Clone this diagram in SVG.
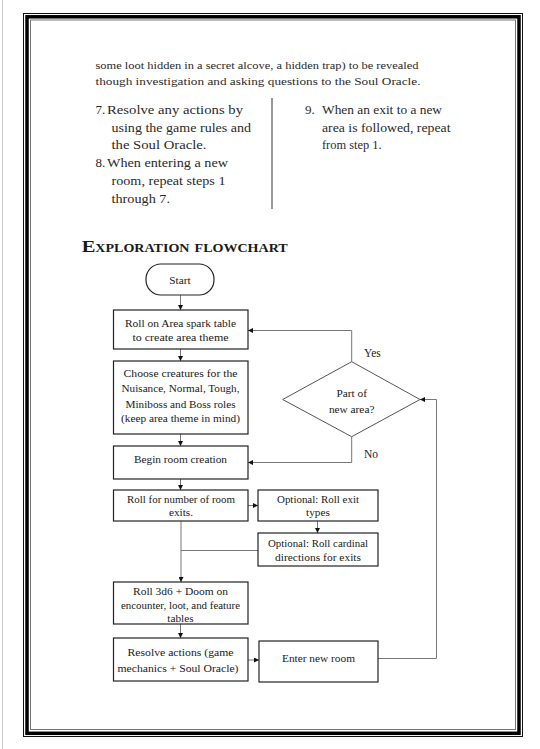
<svg xmlns="http://www.w3.org/2000/svg" width="540" height="749" viewBox="0 0 540 749">
<defs>
<marker id="ah" viewBox="0 0 6 6" refX="6" refY="3" markerWidth="5" markerHeight="5" markerUnits="userSpaceOnUse" orient="auto">
<path d="M0,0 L6,3 L0,6 z" fill="#111"/>
</marker>
<style>
.body{font-family:"Liberation Serif","DejaVu Serif",serif;fill:#2a2a2a;}
.p{font-size:11.2px;}
.li{font-size:13px;}
.h{font-family:"Liberation Serif","DejaVu Serif",serif;font-weight:bold;font-size:17.5px;font-variant:small-caps;fill:#1a1a1a;}
.box{fill:#fff;stroke:#222;stroke-width:1.2;}
.dia{fill:#fff;stroke:#555;stroke-width:1;}
.t{font-family:"Liberation Serif","DejaVu Serif",serif;font-size:11.3px;fill:#1a1a1a;text-anchor:middle;}
.lbl{font-family:"Liberation Serif","DejaVu Serif",serif;font-size:11.5px;fill:#222;}
.c{fill:none;stroke:#777;stroke-width:1;}
.ca{fill:none;stroke:#777;stroke-width:1;marker-end:url(#ah);}
</style>
</defs>
<rect width="540" height="749" fill="#fff"/>
<line x1="2.5" y1="0" x2="2.5" y2="749" stroke="#ccc" stroke-width="1"/>
<g id="frame" fill="none">
<rect x="23.5" y="13.5" width="499" height="723" stroke="#111" stroke-width="1"/>
<rect x="27" y="16.8" width="492" height="716.5" stroke="#000" stroke-width="3.5"/>
<rect x="30.5" y="20" width="485" height="709.5" stroke="#777" stroke-width="1"/>
</g>
<g id="text" class="body">
<text class="p" x="95.5" y="68.5" textLength="323" lengthAdjust="spacingAndGlyphs">some loot hidden in a secret alcove, a hidden trap) to be revealed</text>
<text class="p" x="95.5" y="85" textLength="325" lengthAdjust="spacingAndGlyphs">though investigation and asking questions to the Soul Oracle.</text>
<text class="li" x="95.5" y="114">7.</text>
<text class="li" x="107" y="114" textLength="136" lengthAdjust="spacingAndGlyphs">Resolve any actions by</text>
<text class="li" x="111.5" y="131.7" textLength="139.5" lengthAdjust="spacingAndGlyphs">using the game rules and</text>
<text class="li" x="111.5" y="149.3" textLength="95" lengthAdjust="spacingAndGlyphs">the Soul Oracle.</text>
<text class="li" x="95.5" y="167.3">8.</text>
<text class="li" x="107" y="167.3" textLength="121" lengthAdjust="spacingAndGlyphs">When entering a new</text>
<text class="li" x="111.5" y="185" textLength="114" lengthAdjust="spacingAndGlyphs">room, repeat steps 1</text>
<text class="li" x="111.5" y="202.7" textLength="58.5" lengthAdjust="spacingAndGlyphs">through 7.</text>
<line x1="272" y1="98" x2="272" y2="209" stroke="#555" stroke-width="1.2"/>
<text class="li" x="305" y="114">9.</text>
<text class="li" x="322" y="114" textLength="120" lengthAdjust="spacingAndGlyphs">When an exit to a new</text>
<text class="li" x="322" y="131.7" textLength="128.5" lengthAdjust="spacingAndGlyphs">area is followed, repeat</text>
<text class="li" x="322" y="149.3" textLength="59.5" lengthAdjust="spacingAndGlyphs">from step 1.</text>
<text class="h" x="81.7" y="251.7" textLength="206" lengthAdjust="spacingAndGlyphs">Exploration flowchart</text>
</g>
<g id="connectors">
<line class="ca" x1="180.5" y1="295" x2="180.5" y2="310"/>
<line class="ca" x1="180.5" y1="349" x2="180.5" y2="361"/>
<line class="ca" x1="180.5" y1="434" x2="180.5" y2="446"/>
<line class="ca" x1="180.5" y1="479" x2="180.5" y2="490"/>
<line class="ca" x1="248" y1="505.5" x2="258" y2="505.5"/>
<line class="ca" x1="317.5" y1="521" x2="317.5" y2="533"/>
<polyline class="c" points="258,550.5 181,550.5"/>
<line class="ca" x1="181" y1="521" x2="181" y2="582"/>
<line class="ca" x1="180.5" y1="624" x2="180.5" y2="638"/>
<line class="ca" x1="248" y1="660" x2="259" y2="660"/>
<polyline class="ca" points="378,658.5 436.5,658.5 436.5,399.5 420,399.5"/>
<polyline class="ca" points="351.7,361.7 351.7,330.5 248,330.5"/>
<polyline class="ca" points="351.7,436.7 351.7,462.5 248,462.5"/>
<text class="lbl" x="364" y="357">Yes</text>
<text class="lbl" x="364" y="458">No</text>
</g>
<g id="start">
<rect x="146" y="264" width="68" height="31" rx="15" ry="15" class="box"/>
<text class="t" x="180" y="284">Start</text>
</g>
<g id="area-spark">
<rect x="113.5" y="310" width="134.5" height="39" class="box"/>
<text class="t" x="180.5" y="327" textLength="111" lengthAdjust="spacingAndGlyphs">Roll on Area spark table</text>
<text class="t" x="180.5" y="341" textLength="96" lengthAdjust="spacingAndGlyphs">to create area theme</text>
</g>
<g id="creatures">
<rect x="113.5" y="361" width="134.5" height="73" class="box"/>
<text class="t" x="180.5" y="377" textLength="114" lengthAdjust="spacingAndGlyphs">Choose creatures for the</text>
<text class="t" x="180.5" y="392" textLength="118" lengthAdjust="spacingAndGlyphs">Nuisance, Normal, Tough,</text>
<text class="t" x="180.5" y="407.5" textLength="110" lengthAdjust="spacingAndGlyphs">Miniboss and Boss roles</text>
<text class="t" x="180.5" y="422" textLength="119" lengthAdjust="spacingAndGlyphs">(keep area theme in mind)</text>
</g>
<g id="begin-room">
<rect x="113.5" y="446" width="134.5" height="33" class="box"/>
<text class="t" x="180.5" y="463" textLength="93" lengthAdjust="spacingAndGlyphs">Begin room creation</text>
</g>
<g id="room-exits">
<rect x="113.5" y="490" width="134.5" height="31" class="box" stroke-width="1.5"/>
<text class="t" x="181" y="503" textLength="108" lengthAdjust="spacingAndGlyphs" fill="#000">Roll for number of room</text>
<text class="t" x="181" y="516" fill="#000">exits.</text>
</g>
<g id="exit-types">
<rect x="258" y="490" width="120" height="31" class="box" stroke-width="1.5"/>
<text class="t" x="318" y="503" textLength="82" lengthAdjust="spacingAndGlyphs" fill="#000">Optional: Roll exit</text>
<text class="t" x="318" y="516" fill="#000">types</text>
</g>
<g id="cardinal">
<rect x="258" y="533" width="120" height="33" class="box"/>
<text class="t" x="318" y="547" textLength="100" lengthAdjust="spacingAndGlyphs" fill="#000">Optional: Roll cardinal</text>
<text class="t" x="318" y="561" textLength="86" lengthAdjust="spacingAndGlyphs" fill="#000">directions for exits</text>
</g>
<g id="part-of-area">
<polygon points="282.7,399.5 351.7,361.7 420,399.5 351.7,436.7" class="dia"/>
<text class="t" x="351.7" y="397" font-size="11.5">Part of</text>
<text class="t" x="351.7" y="413" font-size="11.5">new area?</text>
</g>
<g id="roll-3d6">
<rect x="113.5" y="582" width="134.5" height="42" class="box"/>
<text class="t" x="180.5" y="595" textLength="95" lengthAdjust="spacingAndGlyphs" fill="#000">Roll 3d6 + Doom on</text>
<text class="t" x="180.5" y="609" textLength="119" lengthAdjust="spacingAndGlyphs" fill="#000">encounter, loot, and feature</text>
<text class="t" x="180.5" y="622" fill="#000">tables</text>
</g>
<g id="resolve">
<rect x="113.5" y="638" width="134.5" height="43" class="box" stroke="#444"/>
<text class="t" x="180.5" y="656" textLength="106" lengthAdjust="spacingAndGlyphs" fill="#444">Resolve actions (game</text>
<text class="t" x="178" y="672" textLength="121" lengthAdjust="spacingAndGlyphs" fill="#444">mechanics + Soul Oracle)</text>
</g>
<g id="enter-room">
<rect x="259" y="641" width="119" height="41" class="box"/>
<text class="t" x="318.5" y="662" textLength="73" lengthAdjust="spacingAndGlyphs" fill="#333">Enter new room</text>
</g>
</svg>
